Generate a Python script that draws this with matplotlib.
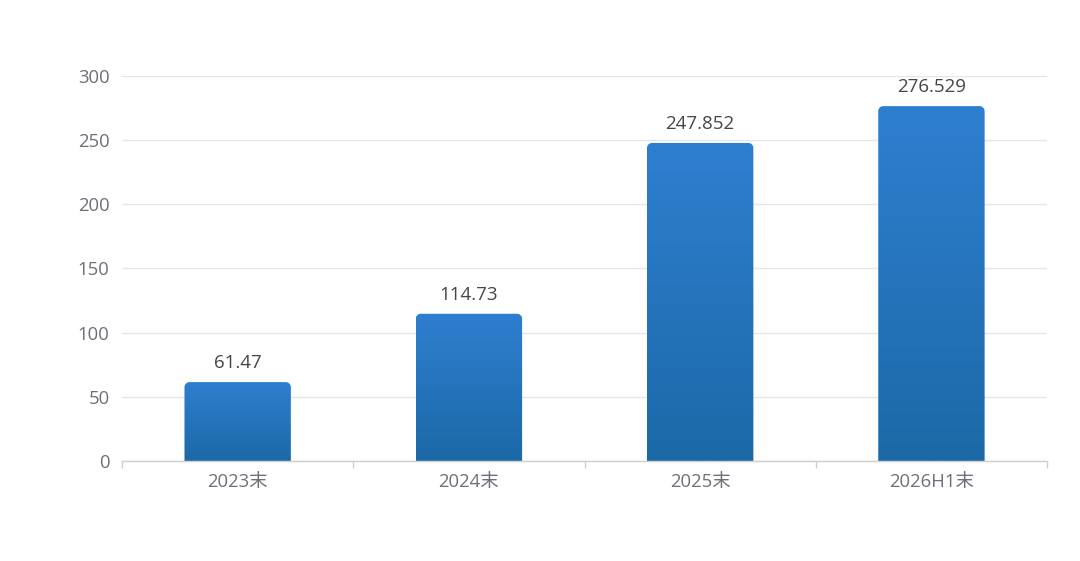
import numpy as np
import matplotlib.pyplot as plt
from matplotlib.path import Path
from matplotlib.patches import PathPatch
from matplotlib.colors import LinearSegmentedColormap

plt.rcParams['font.family'] = ['Open Sans', 'Noto Sans CJK SC', 'DejaVu Sans']

categories = ['2023末', '2024末', '2025末', '2026H1末']
values = [61.47, 114.73, 247.852, 276.529]
labels = ['61.47', '114.73', '247.852', '276.529']
yticks = [0, 50, 100, 150, 200, 250, 300]

fig = plt.figure(figsize=(10.8, 5.61), dpi=100)
ax = fig.add_axes([0.113, 0.1783, 0.8565, 0.6862])

x = np.arange(len(categories))
bars = ax.bar(x, values, width=0.46, color='none', zorder=2)
ax.set_xlim(-0.5, len(categories) - 0.5)
ax.set_ylim(0, 300)

# gradient fill, blue on top to darker blue at the bottom
cmap = LinearSegmentedColormap.from_list('g', ['#1c69a7', '#2e7fd0'])
grad = np.linspace(0, 1, 256).reshape(-1, 1)

fig.canvas.draw()
px_x = ax.transData.transform((1, 0))[0] - ax.transData.transform((0, 0))[0]
px_y = ax.transData.transform((0, 1))[1] - ax.transData.transform((0, 0))[1]
r = 5
rx, ry = r / px_x, r / px_y
k = 0.55

for b in bars:
    x0, w, h = b.get_x(), b.get_width(), b.get_height()
    x1 = x0 + w
    verts = [(x0, 0), (x0, h - ry),
             (x0, h - ry + k * ry), (x0 + rx - k * rx, h), (x0 + rx, h),
             (x1 - rx, h),
             (x1 - rx + k * rx, h), (x1, h - ry + k * ry), (x1, h - ry),
             (x1, 0), (x0, 0)]
    codes = [Path.MOVETO, Path.LINETO,
             Path.CURVE4, Path.CURVE4, Path.CURVE4,
             Path.LINETO,
             Path.CURVE4, Path.CURVE4, Path.CURVE4,
             Path.LINETO, Path.CLOSEPOLY]
    patch = PathPatch(Path(verts, codes), facecolor='none', edgecolor='none')
    ax.add_patch(patch)
    im = ax.imshow(grad, extent=[x0, x1, 0, h], origin='lower', cmap=cmap,
                   aspect='auto', zorder=2)
    im.set_clip_path(patch)

ax.set_xlim(-0.5, len(categories) - 0.5)
ax.set_ylim(0, 300)

for xi, v, t in zip(x, values, labels):
    ax.annotate(t, (xi, v), xytext=(0, 7), textcoords='offset points',
                ha='center', va='bottom', fontsize=13.5, color='#464646')

ax.set_yticks(yticks)
ax.set_yticklabels([str(t) for t in yticks])
ax.yaxis.grid(True, color='#e6e6e6', linewidth=1)
ax.set_axisbelow(True)
ax.tick_params(axis='y', length=0, pad=9, labelsize=13.3, labelcolor='#6e7079')

ax.set_xticks(x)
ax.set_xticklabels(categories)
ax.set_xticks(np.arange(-0.5, len(categories)), minor=True)
ax.tick_params(axis='x', which='major', length=0, pad=9, labelsize=13.3,
               labelcolor='#6e7079')
ax.tick_params(axis='x', which='minor', length=5, width=1, color='#cfcfcf')

for s in ['top', 'right', 'left']:
    ax.spines[s].set_visible(False)
ax.spines['bottom'].set_color('#cfcfcf')
ax.spines['bottom'].set_linewidth(1)

fig.savefig('out.png', dpi=100)
